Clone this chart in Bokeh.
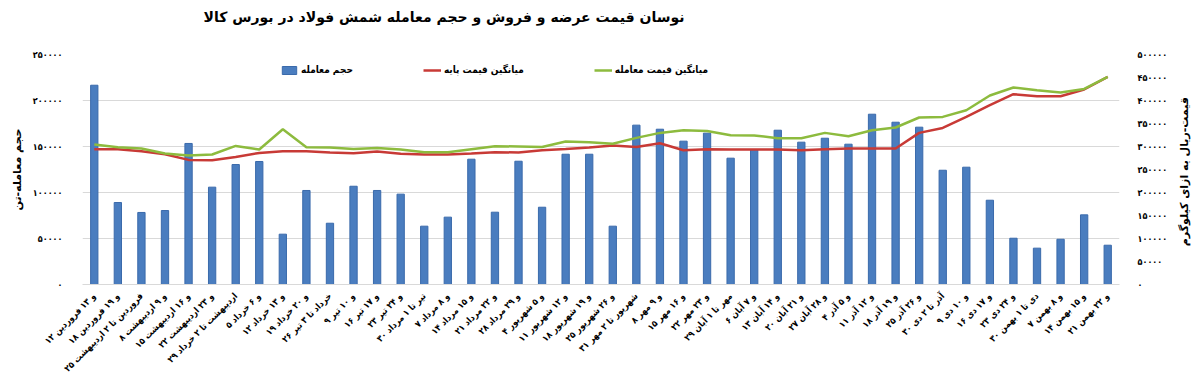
import math
from bokeh.plotting import figure
from bokeh.models import (FactorRange, Range1d, LinearAxis, FixedTicker, Legend,
                          LegendItem, ColumnDataSource)
from bokeh.embed import file_html
from bokeh.resources import INLINE

dates = [
    "۱۲ و ۱۳ فروردین", "۱۸ و ۱۹ فروردین", "۲۵ فروردین تا ۲ اردیبهشت", "۸ و ۹ اردیبهشت",
    "۱۵ و ۱۶ اردیبهشت", "۲۲ و ۲۳ اردیبهشت", "۲۹ اردیبهشت تا ۲ خرداد", "۵ و ۶ خرداد",
    "۱۲ و ۱۳ خرداد", "۱۹ و ۲۰ خرداد", "۲۶ خرداد تا ۳ تیر", "۹ و ۱۰ تیر",
    "۱۶ و ۱۷ تیر", "۲۳ و ۲۴ تیر", "۳۰ تیر تا ۱ مرداد", "۷ و ۸ مرداد",
    "۱۴ و ۱۵ مرداد", "۲۱ و ۲۲ مرداد", "۲۸ و ۲۹ مرداد", "۴ و ۵ شهریور",
    "۱۱ و ۱۲ شهریور", "۱۸ و ۱۹ شهریور", "۲۵ و ۲۶ شهریور", "۳۱ شهریور تا ۲ مهر",
    "۸ و ۹ مهر", "۱۵ و ۱۶ مهر", "۲۲ و ۲۳ مهر", "۲۹ مهر تا ۱ آبان",
    "۶ و ۷ آبان", "۱۳ و ۱۴ آبان", "۲۰ و ۲۱ آبان", "۲۷ و ۲۸ آبان",
    "۴ و ۵ آذر", "۱۱ و ۱۲ آذر", "۱۸ و ۱۹ آذر", "۲۵ و ۲۶ آذر",
    "۳۰ آذر تا ۲ دی", "۹ و ۱۰ دی", "۱۶ و ۱۷ دی", "۲۳ و ۲۴ دی",
    "۳۰ دی تا ۱ بهمن", "۷ و ۸ بهمن", "۱۴ و ۱۵ بهمن", "۲۱ و ۲۲ بهمن",
]

volume = [216600, 89100, 78300, 80400, 153300, 105800, 130400, 133700, 54700, 102200,
          66600, 106800, 102200, 98200, 63400, 73200, 136200, 78600, 134000, 84000,
          141600, 141600, 63400, 173200, 168800, 155800, 164500, 137300, 146700, 167700,
          154700, 159000, 152500, 185100, 176400, 171000, 124200, 127500, 91600, 50300,
          39500, 49200, 75700, 42700]

base_price = [294100, 294100, 289800, 283300, 270900, 270200, 277400, 286100, 289800, 289800,
              287000, 285400, 289100, 284000, 282600, 282600, 284800, 287600, 287000, 292000,
              294800, 297800, 302000, 299100, 307200, 292000, 294100, 293500, 293500, 293500,
              292000, 294100, 295600, 295600, 295600, 329600, 340400, 364300, 389800, 413700,
              409300, 409300, 423900, 451300]

trade_price = [304300, 298500, 295600, 284800, 280400, 282600, 301300, 293500, 337600, 298500,
               298000, 294800, 297000, 293500, 287600, 287600, 294100, 300700, 300000, 299100,
               310900, 309300, 306000, 318700, 329600, 335400, 333900, 324600, 324100, 318000,
               318000, 329600, 322400, 335400, 341300, 363000, 364300, 378900, 410900, 428300,
               422400, 417400, 425200, 451300]

left_ticks = [0, 50000, 100000, 150000, 200000, 250000]
right_ticks = [0, 50000, 100000, 150000, 200000, 250000, 300000, 350000, 400000, 450000, 500000]

title_text = "نوسان قیمت عرضه و فروش و حجم معامله شمش فولاد در بورس کالا"
left_title = "حجم معامله-تن"
right_title = "قیمت-ریال به ازای کیلوگرم"
series_names = ["حجم معامله", "میانگین قیمت پایه", "میانگین قیمت معامله"]

FA = str.maketrans("0123456789", "۰۱۲۳۴۵۶۷۸۹")
def fa(n):
    return str(n).translate(FA)

FONT = "DejaVu Sans"
CFONT = "DejaVu Sans Condensed"

src = ColumnDataSource(dict(d=dates, v=volume, b=base_price, t=trade_price))

p = figure(width=1200, height=383,
           x_range=FactorRange(*dates, range_padding=0),
           y_range=Range1d(0, 250000),
           output_backend="svg", toolbar_location=None,
           min_border_left=82, min_border_right=80,
           min_border_top=54, min_border_bottom=99)
p.outline_line_color = None
p.background_fill_color = "white"
p.border_fill_color = "white"

# title (second empty line lifts the text towards the top of the page)
p.title.text = title_text + "\n "
p.title.align = "left"
p.title.offset = 121
p.title.standoff = 4
p.title.vertical_align = "bottom"
p.title.text_line_height = 1.7
p.title.text_font = FONT
p.title.text_font_style = "bold"
p.title.text_font_size = "14px"
p.title.text_color = "black"

p.extra_y_ranges = {"price": Range1d(0, 500000)}

bars = p.vbar(x="d", top="v", width=0.31, source=src,
              fill_color="#4a7dbf", line_color="#3a6aab", line_width=1)
red = p.line(x="d", y="b", source=src, y_range_name="price",
             line_color="#c83a36", line_width=2.5)
green = p.line(x="d", y="t", source=src, y_range_name="price",
               line_color="#8dbb3e", line_width=2.5)

# left axis
ya = p.yaxis[0]
ya.ticker = FixedTicker(ticks=left_ticks)
ya.major_label_overrides = {t: fa(t) for t in left_ticks}
ya.axis_line_color = None
ya.major_tick_line_color = None
ya.minor_tick_line_color = None
ya.major_label_standoff = 14
ya.major_label_text_font = CFONT
ya.major_label_text_font_style = "bold"
ya.major_label_text_font_size = "9px"
ya.major_label_text_color = "black"
ya.axis_label = left_title
ya.axis_label_text_font = FONT
ya.axis_label_text_font_style = "bold"
ya.axis_label_text_font_size = "11px"
ya.axis_label_text_color = "black"
ya.axis_label_standoff = 6

# right axis; its title reads bottom-to-top like the reference and is
# lifted towards the middle of the frame by leading no-break spaces
ra = LinearAxis(y_range_name="price", ticker=FixedTicker(ticks=right_ticks))
ra.major_label_overrides = {t: fa(t) for t in right_ticks}
ra.axis_line_color = None
ra.major_tick_line_color = None
ra.minor_tick_line_color = None
ra.major_label_standoff = 12
ra.major_label_text_font = CFONT
ra.major_label_text_font_style = "bold"
ra.major_label_text_font_size = "9px"
ra.major_label_text_color = "black"
ra.axis_label_text_font = FONT
ra.axis_label_text_font_style = "bold"
ra.axis_label_text_font_size = "11px"
ra.axis_label_text_color = "black"
ra.axis_label_standoff = 14
try:
    ra.axis_label_orientation = math.pi / 2
    ra.axis_label_align = "start"
    ra.axis_label = "\u00a0" * 10 + right_title
except Exception:
    ra.axis_label_orientation = "parallel"
    ra.axis_label = right_title
p.add_layout(ra, "right")

# x axis
xa = p.xaxis[0]
xa.major_label_orientation = math.pi / 4
xa.major_label_text_font = CFONT
xa.major_label_text_font_style = "bold"
xa.major_label_text_font_size = "9px"
xa.major_label_text_color = "black"
xa.major_tick_line_color = None
xa.minor_tick_line_color = None
xa.axis_line_color = "#d9d9d9"
xa.major_label_standoff = 4

p.xgrid.grid_line_color = None
p.ygrid.grid_line_color = "#d9d9d9"
p.ygrid.ticker = FixedTicker(ticks=left_ticks)

legend = Legend(items=[LegendItem(label=series_names[0], renderers=[bars]),
                       LegendItem(label=series_names[1], renderers=[red]),
                       LegendItem(label=series_names[2], renderers=[green])],
                orientation="horizontal", location=(198, 209),
                spacing=70, glyph_width=18, glyph_height=10, label_standoff=3,
                padding=0, margin=0,
                background_fill_alpha=0, border_line_color=None,
                label_text_font=CFONT, label_text_font_style="bold",
                label_text_font_size="10px", label_text_color="black")
p.add_layout(legend)

open("out.html", "w").write(file_html(p, INLINE))
